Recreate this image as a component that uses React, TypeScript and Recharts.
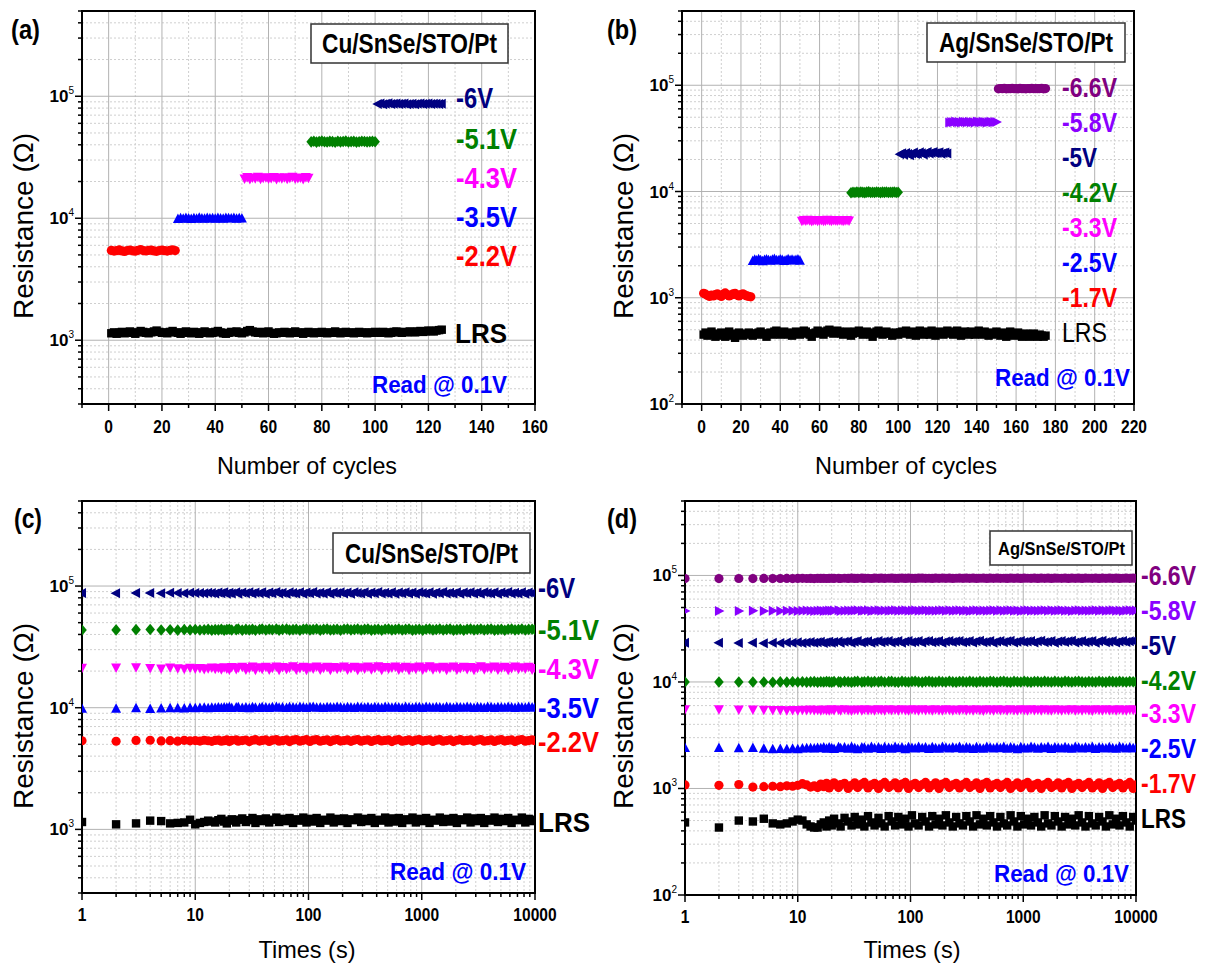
import React from 'react';
import { ScatterChart, Scatter, XAxis, YAxis, CartesianGrid, ReferenceArea } from 'recharts';

const FONT = "'Liberation Sans', Arial, Helvetica, sans-serif";

const COL = {
  lrs: '#000000', red: '#FF0000', blue: '#0000FF', magenta: '#FF00FF',
  green: '#008000', navy: '#000080', violet: '#8A00FF', purple: '#800080',
};

// ---------- (a) Cu/SnSe/STO/Pt : resistance (kOhm) vs cycle ----------
const aLRS = [1.14,1.16,1.13,1.15,1.17,1.14,1.16,1.18,1.15,1.13,1.16,1.19,1.17,1.15,1.14,1.16,1.18,1.20,1.17,1.15,1.16,1.14,1.17,1.19,1.16,
  1.15,1.13,1.16,1.18,1.15,1.14,1.17,1.16,1.13,1.15,1.18,1.16,1.14,1.15,1.17,1.19,1.16,1.14,1.13,1.15,1.17,1.16,1.18,1.15,1.14,
  1.16,1.19,1.21,1.18,1.16,1.15,1.17,1.14,1.16,1.18,1.15,1.13,1.14,1.16,1.15,1.17,1.16,1.14,1.15,1.18,1.16,1.15,1.13,1.16,1.17,
  1.15,1.14,1.16,1.15,1.17,1.16,1.14,1.15,1.16,1.18,1.15,1.14,1.16,1.17,1.15,1.16,1.14,1.15,1.17,1.16,1.15,1.14,1.16,1.15,1.17,
  1.16,1.15,1.17,1.16,1.14,1.15,1.17,1.18,1.16,1.15,1.17,1.16,1.18,1.17,1.16,1.18,1.19,1.17,1.18,1.20,1.19,1.18,1.20,1.21,1.22];
const aV22 = [5.45,5.38,5.42,5.50,5.40,5.35,5.44,5.48,5.41,5.37,5.46,5.52,5.43,5.39,5.45,5.49,5.40,5.36,5.44,5.47,5.42,5.38,5.45,5.50,5.43];
const aV35 = [9.85,10.0,9.9,10.05,9.95,9.88,10.02,9.92,10.08,9.97,9.9,10.04,9.94,10.0,9.89,10.06,9.96,9.91,10.03,9.98,9.93,10.05,9.9,10.0,9.95];
const aV43 = [21.2,21.8,21.0,21.6,21.3,21.9,21.1,21.5,21.7,21.2,21.4,21.8,21.0,21.6,21.3,21.7,21.1,21.5,21.9,21.2,21.4,21.6,21.0,21.8,21.5];
const aV51 = [42.3,42.8,42.1,42.6,42.9,42.4,42.2,42.7,42.5,42.0,42.8,42.3,42.6,42.9,42.2,42.5,42.7,42.1,42.4,42.8,42.6,42.3,42.5,42.7,42.4];
const aV6 = [86.5,87.2,86.0,86.8,87.5,86.3,86.9,87.1,86.4,86.7,87.3,86.1,86.6,87.0,86.2,86.8,87.4,86.5,86.9,87.2,86.3,86.7,87.0,86.4,86.8];
const aStart = { lrs: 1, v22: 1, v35: 26, v43: 51, v51: 76, v6: 101 };

// ---------- (b) Ag/SnSe/STO/Pt : resistance (kOhm) vs cycle ----------
const bLRS = [0.45,0.47,0.44,0.46,0.48,0.45,0.43,0.46,0.44,0.47,0.45,0.43,0.46,0.48,0.45,0.44,0.42,0.46,0.47,0.45,0.44,0.46,0.45,0.47,0.46,
  0.44,0.46,0.45,0.47,0.48,0.46,0.45,0.43,0.46,0.47,0.45,0.48,0.49,0.47,0.45,0.46,0.48,0.47,0.45,0.46,0.44,0.47,0.48,0.46,0.45,
  0.47,0.49,0.48,0.46,0.45,0.43,0.46,0.47,0.49,0.48,0.46,0.45,0.47,0.49,0.50,0.48,0.46,0.47,0.49,0.48,0.46,0.45,0.47,0.48,0.46,
  0.44,0.46,0.48,0.47,0.49,0.47,0.45,0.46,0.48,0.47,0.45,0.43,0.46,0.48,0.49,0.47,0.45,0.46,0.48,0.47,0.46,0.44,0.46,0.47,0.45,
  0.47,0.48,0.46,0.49,0.47,0.45,0.48,0.46,0.44,0.47,0.49,0.46,0.45,0.48,0.47,0.45,0.49,0.46,0.44,0.47,0.48,0.46,0.45,0.47,0.49,
  0.46,0.48,0.45,0.47,0.49,0.46,0.44,0.47,0.48,0.46,0.45,0.48,0.47,0.45,0.46,0.49,0.47,0.45,0.48,0.46,0.44,0.47,0.45,0.46,0.48,
  0.46,0.44,0.47,0.45,0.43,0.46,0.48,0.45,0.44,0.46,0.47,0.45,0.43,0.44,0.46,0.45,0.43,0.44,0.46,0.44,0.43,0.45,0.44,0.43,0.44];
const bV17 = [1.10,1.08,1.05,1.03,1.06,1.04,1.07,1.09,1.05,1.03,1.08,1.11,1.07,1.04,1.06,1.09,1.10,1.06,1.04,1.07,1.09,1.06,1.04,1.03,1.02];
const bV25 = [2.22,2.28,2.24,2.30,2.26,2.21,2.27,2.29,2.25,2.23,2.28,2.31,2.26,2.24,2.29,2.27,2.22,2.26,2.30,2.25,2.28,2.24,2.27,2.29,2.23];
const bV33 = [5.30,5.38,5.33,5.41,5.35,5.29,5.37,5.40,5.32,5.36,5.39,5.31,5.34,5.42,5.36,5.30,5.38,5.35,5.33,5.40,5.37,5.31,5.36,5.39,5.34];
const bV42 = [9.75,9.85,9.8,9.9,9.78,9.88,9.82,9.76,9.86,9.92,9.8,9.84,9.78,9.9,9.83,9.77,9.87,9.81,9.89,9.79,9.85,9.82,9.88,9.8,9.84];
const bV5 = [22.4,22.9,22.2,23.1,22.6,22.0,22.8,23.3,22.5,22.7,23.4,22.9,22.3,23.0,23.5,22.8,23.2,23.6,22.9,23.1,23.4,22.7,23.0,23.3,22.8];
const bV58 = [44.6,45.2,44.8,45.5,44.9,45.1,44.7,45.4,45.0,44.8,45.3,44.9,45.2,44.6,45.5,45.0,44.8,45.3,45.1,44.7,45.2,45.4,44.9,45.1,45.0];
const bV66 = [92.5,93.2,92.8,93.5,92.6,93.0,92.9,93.3,92.7,93.1,92.5,93.4,92.8,93.0,92.6,93.2,92.9,93.5,92.7,93.1,92.8,93.0,93.3,92.6,93.0];
const bStart = { lrs: 1, v17: 1, v25: 26, v33: 51, v42: 76, v5: 101, v58: 126, v66: 151 };

// ---------- retention: read times (s) ----------
const times = [1,2,3,4,5,6,7,8,9,10,
  11,12,13,14,15,16,17,18,19,20,
  21,23,24,26,28,30,32,34,37,39,
  42,45,48,52,55,59,64,68,73,78,
  84,90,96,103,110,118,127,136,146,156,
  167,179,192,206,221,237,254,272,292,313,
  335,359,385,413,443,475,509,545,585,627,
  672,720,772,828,887,951,1020,1093,1172,1256,
  1346,1443,1547,1659,1778,1906,2043,2190,2348,2517,
  2698,2893,3101,3324,3564,3820,4095,4390,4706,5045,
  5408,5798,6215,6663,7143,7657,8208,8799,9433,10000];

// ---------- (c) Cu retention (kOhm) ----------
const cLRS = [1.15,1.10,1.12,1.18,1.17,1.12,1.13,1.14,1.20,1.10,
  1.13,1.15,1.18,1.16,1.14,1.19,1.22,1.16,1.12,1.18,
  1.21,1.14,1.20,1.23,1.15,1.19,1.24,1.13,1.21,1.17,
  1.23,1.14,1.20,1.25,1.15,1.22,1.17,1.24,1.13,1.21,
  1.18,1.25,1.14,1.22,1.16,1.24,1.13,1.20,1.18,1.25,
  1.14,1.22,1.17,1.23,1.13,1.21,1.19,1.25,1.15,1.22,
  1.17,1.24,1.13,1.20,1.18,1.25,1.14,1.23,1.16,1.24,
  1.13,1.21,1.19,1.25,1.14,1.22,1.17,1.24,1.13,1.20,
  1.18,1.25,1.15,1.22,1.16,1.24,1.13,1.21,1.19,1.25,
  1.14,1.23,1.17,1.24,1.13,1.21,1.18,1.25,1.15,1.22,
  1.17,1.24,1.13,1.20,1.19,1.25,1.14,1.22,1.17,1.20];
const cV22 = [5.35,5.30,5.38,5.40,5.33,5.36,5.31,5.39,5.34,5.37,
  5.32,5.40,5.35,5.29,5.38,5.42,5.30,5.36,5.44,5.28,
  5.39,5.45,5.31,5.37,5.43,5.27,5.40,5.46,5.32,5.38,
  5.44,5.28,5.41,5.47,5.30,5.36,5.45,5.27,5.42,5.48,
  5.31,5.39,5.46,5.28,5.43,5.47,5.30,5.38,5.45,5.27,
  5.41,5.48,5.32,5.37,5.44,5.29,5.42,5.47,5.31,5.39,
  5.45,5.28,5.40,5.46,5.33,5.38,5.44,5.27,5.41,5.48,
  5.30,5.36,5.45,5.29,5.42,5.47,5.32,5.39,5.44,5.28,
  5.41,5.46,5.31,5.37,5.45,5.27,5.40,5.48,5.33,5.38,
  5.44,5.29,5.42,5.47,5.30,5.36,5.45,5.28,5.41,5.46,
  5.32,5.39,5.44,5.27,5.42,5.48,5.31,5.37,5.45,5.35];
const cV35 = [9.80,9.82,9.90,9.75,9.85,9.88,9.92,9.86,9.95,9.90,
  9.94,9.97,9.91,9.99,9.96,10.02,9.95,10.05,9.98,10.08,
  9.93,10.04,10.10,9.96,10.06,9.92,10.09,10.01,9.94,10.11,
  10.03,9.95,10.08,10.12,9.97,10.05,9.93,10.10,10.02,9.96,
  10.12,10.04,9.94,10.09,10.13,9.98,10.06,9.95,10.11,10.03,
  9.97,10.12,10.05,9.94,10.10,10.02,9.96,10.13,10.04,9.98,
  10.09,9.93,10.11,10.06,9.95,10.12,10.03,9.97,10.10,10.05,
  9.94,10.13,10.02,9.96,10.11,10.07,9.93,10.12,10.04,9.98,
  10.10,10.03,9.95,10.13,10.06,9.94,10.11,10.02,9.97,10.12,
  10.05,9.93,10.10,10.04,9.96,10.13,10.07,9.95,10.11,10.03,
  9.98,10.12,10.05,9.94,10.10,10.02,9.97,10.13,10.04,10.06];
const cV43 = [21.3,21.4,21.5,21.2,21.0,21.4,21.1,20.9,21.3,21.0,
  21.2,20.8,21.1,21.4,20.9,21.3,20.7,21.5,21.0,20.6,
  21.6,20.8,21.4,21.7,20.6,21.2,21.8,20.5,21.5,20.9,
  21.7,20.6,21.3,21.8,20.5,21.6,20.8,21.4,21.9,20.6,
  21.2,21.7,20.5,21.5,21.0,21.8,20.6,21.3,21.7,20.5,
  21.6,20.9,21.4,21.8,20.6,21.2,21.7,20.5,21.5,21.0,
  21.8,20.7,21.3,21.9,20.5,21.6,21.0,21.4,21.8,20.6,
  21.2,21.7,20.5,21.5,20.9,21.8,20.6,21.3,21.9,20.7,
  21.5,21.0,21.7,20.5,21.4,21.8,20.6,21.2,21.7,20.8,
  21.6,20.5,21.3,21.9,20.7,21.5,21.0,21.8,20.6,21.4,
  21.7,20.5,21.2,21.8,20.9,21.5,21.0,21.7,20.6,21.2];
const cV51 = [43.5,43.6,43.8,43.9,43.5,43.7,43.4,43.8,43.6,43.9,
  43.5,43.7,44.0,43.4,43.8,43.6,44.1,43.3,43.9,44.2,
  43.5,43.8,44.3,43.4,44.0,43.6,44.2,43.3,43.9,44.4,
  43.5,44.1,43.7,44.3,43.4,44.0,44.4,43.5,43.8,44.2,
  43.3,44.1,44.4,43.6,43.9,44.3,43.4,44.0,44.4,43.5,
  43.8,44.2,43.3,44.1,44.4,43.6,43.9,44.3,43.5,44.0,
  44.4,43.4,43.8,44.2,43.3,44.1,44.4,43.6,43.9,44.3,
  43.5,44.0,44.4,43.4,43.8,44.2,43.3,44.1,44.4,43.6,
  43.9,44.3,43.5,44.0,44.4,43.4,43.8,44.2,43.3,44.1,
  44.4,43.6,43.9,44.3,43.5,44.0,44.4,43.4,43.8,44.2,
  43.3,44.1,44.4,43.6,43.9,44.3,43.5,44.0,44.2,43.8];
const cV6 = [87.5,87.3,87.6,87.8,87.4,87.9,87.6,87.3,88.0,87.5,
  87.8,87.4,88.1,87.7,86.8,88.4,87.2,88.8,86.6,88.2,
  87.0,89.0,86.5,88.6,87.4,89.1,86.7,88.3,87.1,88.9,
  86.4,88.5,87.3,89.2,86.8,88.1,86.5,88.9,87.6,86.9,
  89.0,86.6,88.4,87.2,89.2,86.7,88.2,87.0,88.8,86.5,
  88.6,87.4,89.1,86.8,88.3,86.4,88.9,87.5,86.9,89.0,
  86.6,88.4,87.2,89.2,86.7,88.2,87.0,88.8,86.5,88.6,
  87.4,89.1,86.8,88.3,86.4,88.9,87.5,86.9,89.0,86.6,
  88.4,87.2,89.2,86.7,88.2,87.0,88.8,86.5,88.6,87.4,
  89.1,86.8,88.3,86.4,88.9,87.5,86.9,89.0,86.6,88.4,
  87.2,89.2,86.7,88.2,87.0,88.8,86.5,88.6,87.4,88.0];

// ---------- (d) Ag retention (kOhm) ----------
const dLRS = [0.48,0.43,0.50,0.49,0.52,0.47,0.46,0.47,0.49,0.51,
  0.50,0.46,0.44,0.43,0.43,0.46,0.48,0.44,0.50,0.45,
  0.52,0.47,0.44,0.53,0.49,0.45,0.54,0.46,0.51,0.44,
  0.55,0.48,0.45,0.53,0.47,0.44,0.55,0.49,0.45,0.54,
  0.46,0.52,0.44,0.56,0.47,0.45,0.54,0.49,0.44,0.55,
  0.46,0.52,0.45,0.56,0.48,0.44,0.54,0.47,0.45,0.55,
  0.49,0.44,0.56,0.46,0.52,0.45,0.55,0.48,0.44,0.54,
  0.47,0.45,0.56,0.49,0.44,0.55,0.46,0.52,0.45,0.54,
  0.48,0.44,0.56,0.47,0.45,0.55,0.49,0.44,0.54,0.46,
  0.52,0.45,0.56,0.48,0.44,0.55,0.47,0.45,0.54,0.49,
  0.44,0.56,0.46,0.52,0.45,0.55,0.48,0.44,0.54,0.50];
const dV17 = [1.08,1.07,1.09,1.03,1.04,1.05,1.04,1.06,1.05,1.07,
  1.11,1.08,1.03,1.06,1.02,1.10,1.04,1.12,1.01,1.08,
  1.13,1.02,1.09,1.12,1.00,1.07,1.13,1.02,1.10,1.14,
  1.01,1.08,1.12,1.00,1.09,1.14,1.02,1.07,1.13,1.01,
  1.10,1.14,1.00,1.08,1.12,1.02,1.09,1.14,1.01,1.07,
  1.13,1.00,1.10,1.14,1.02,1.08,1.12,1.01,1.09,1.14,
  1.02,1.07,1.13,1.00,1.10,1.14,1.01,1.08,1.12,1.02,
  1.09,1.14,1.00,1.07,1.13,1.02,1.10,1.14,1.01,1.08,
  1.12,1.00,1.09,1.14,1.02,1.07,1.13,1.01,1.10,1.14,
  1.00,1.08,1.12,1.02,1.09,1.14,1.01,1.07,1.13,1.00,
  1.10,1.14,1.02,1.08,1.12,1.01,1.09,1.14,1.00,1.08];
const dV25 = [2.40,2.40,2.38,2.40,2.36,2.33,2.35,2.34,2.36,2.33,
  2.37,2.38,2.39,2.37,2.40,2.38,2.42,2.36,2.43,2.39,
  2.35,2.44,2.38,2.42,2.36,2.45,2.39,2.34,2.43,2.41,
  2.36,2.45,2.38,2.42,2.35,2.44,2.40,2.36,2.45,2.38,
  2.42,2.34,2.44,2.40,2.37,2.45,2.38,2.42,2.35,2.44,
  2.39,2.36,2.45,2.41,2.37,2.43,2.38,2.45,2.36,2.42,
  2.40,2.35,2.44,2.39,2.36,2.45,2.41,2.37,2.43,2.38,
  2.45,2.36,2.42,2.40,2.34,2.44,2.39,2.37,2.45,2.41,
  2.36,2.43,2.38,2.45,2.35,2.42,2.40,2.37,2.44,2.39,
  2.36,2.45,2.41,2.37,2.43,2.38,2.45,2.35,2.42,2.40,
  2.37,2.44,2.39,2.36,2.45,2.41,2.37,2.43,2.38,2.39];
const dV33 = [5.55,5.55,5.52,5.50,5.48,5.45,5.47,5.44,5.46,5.43,
  5.48,5.45,5.50,5.46,5.49,5.44,5.51,5.47,5.42,5.53,
  5.46,5.50,5.43,5.54,5.47,5.41,5.52,5.48,5.44,5.55,
  5.46,5.50,5.42,5.53,5.48,5.43,5.55,5.46,5.51,5.42,
  5.54,5.47,5.44,5.55,5.49,5.42,5.53,5.46,5.50,5.43,
  5.55,5.47,5.44,5.54,5.48,5.42,5.52,5.46,5.55,5.44,
  5.50,5.43,5.54,5.47,5.41,5.53,5.48,5.44,5.55,5.46,
  5.51,5.42,5.54,5.47,5.44,5.55,5.49,5.42,5.53,5.46,
  5.50,5.43,5.55,5.47,5.44,5.54,5.48,5.42,5.52,5.46,
  5.55,5.44,5.50,5.43,5.54,5.47,5.41,5.53,5.48,5.44,
  5.55,5.46,5.51,5.42,5.54,5.47,5.44,5.55,5.49,5.48];
const dV42 = [10.0,10.0,10.0,10.0,10.0,9.95,10.02,9.97,10.04,9.98,
  10.05,9.96,10.03,10.07,9.95,10.06,9.98,10.09,10.01,9.96,
  10.10,10.03,9.97,10.11,10.04,9.96,10.08,10.12,9.99,10.05,
  10.13,9.97,10.09,10.02,10.14,9.98,10.07,10.12,10.00,9.96,
  10.13,10.05,9.98,10.11,10.14,10.01,9.97,10.10,10.13,10.03,
  9.98,10.12,10.06,9.99,10.14,10.02,9.97,10.11,10.08,10.00,
  10.13,10.05,9.96,10.12,10.04,9.98,10.14,10.07,9.97,10.10,
  10.13,10.01,9.96,10.12,10.06,9.99,10.14,10.03,9.97,10.11,
  10.08,10.00,10.13,10.05,9.98,10.12,10.04,9.96,10.14,10.07,
  9.99,10.11,10.13,10.02,9.97,10.10,10.06,9.98,10.14,10.03,
  9.97,10.12,10.08,10.00,10.13,10.05,9.98,10.11,10.04,10.05];
const dV5 = [23.3,23.3,23.2,23.3,23.1,23.4,23.2,23.5,23.3,23.6,
  23.2,23.5,23.7,23.3,23.6,23.8,23.2,23.6,23.9,23.4,
  23.7,24.0,23.3,23.8,24.1,23.4,23.9,24.2,23.5,23.8,
  24.1,23.3,23.9,24.2,23.6,24.0,24.3,23.5,23.9,24.2,
  23.4,24.0,24.3,23.6,23.9,24.2,23.5,24.1,24.3,23.6,
  23.9,24.2,23.4,24.0,24.3,23.7,24.1,24.3,23.6,23.9,
  24.2,23.5,24.1,24.4,23.6,23.9,24.3,23.4,24.0,24.2,
  23.6,24.1,24.4,23.5,23.9,24.3,23.7,24.0,24.2,23.5,
  24.1,24.4,23.6,23.9,24.3,23.4,24.0,24.2,23.7,24.1,
  24.4,23.5,23.9,24.3,23.6,24.0,24.2,23.4,24.1,24.4,
  23.6,23.9,24.3,23.5,24.0,24.2,23.7,24.1,24.3,24.0];
const dV58 = [46.4,46.4,46.3,46.5,46.4,46.6,46.3,46.5,46.7,46.4,
  46.6,46.8,46.5,46.3,46.7,46.9,46.4,46.6,47.0,46.5,
  46.8,47.1,46.4,46.7,47.0,46.5,46.9,47.2,46.6,46.8,
  47.1,46.4,46.9,47.2,46.7,47.0,46.5,46.9,47.2,46.6,
  46.8,47.1,46.5,47.0,47.2,46.7,46.9,47.2,46.6,47.0,
  46.5,46.9,47.2,46.7,47.1,46.6,46.9,47.2,46.7,47.0,
  46.4,46.8,47.2,46.6,47.0,46.5,46.9,47.2,46.7,47.1,
  46.5,46.9,47.2,46.6,47.0,46.4,46.8,47.2,46.7,47.0,
  46.5,46.9,47.2,46.6,47.1,46.5,46.8,47.2,46.7,47.0,
  46.4,46.9,47.2,46.6,47.0,46.5,46.8,47.2,46.7,47.1,
  46.5,46.9,47.2,46.6,47.0,46.4,46.8,47.2,46.7,46.9];
const dV66 = [93.5,93.5,93.6,93.5,93.7,93.4,93.6,93.8,93.5,93.7,
  93.9,93.6,93.8,93.5,93.9,93.7,94.0,93.6,93.9,94.1,
  93.7,94.0,93.6,94.1,93.8,94.2,93.7,94.0,94.2,93.8,
  94.1,93.6,94.2,93.9,94.3,93.8,94.1,94.3,93.7,94.0,
  94.2,93.8,94.3,94.0,93.7,94.2,94.3,93.9,94.1,93.8,
  94.3,94.0,94.2,93.9,94.3,93.8,94.1,94.3,94.0,94.2,
  93.9,94.3,93.7,94.1,94.3,93.8,94.2,94.0,94.3,93.9,
  94.1,93.7,94.3,94.0,94.2,93.8,94.3,94.1,93.9,94.2,
  93.7,94.3,94.0,94.2,93.8,94.3,94.1,93.9,94.2,93.8,
  94.3,94.0,94.2,93.7,94.3,94.1,93.9,94.2,93.8,94.3,
  94.0,94.2,93.9,94.3,93.8,94.1,94.3,94.0,94.2,94.1];

// ---------- axes ----------
const xTicksA = [-10,0,10,20,30,40,50,60,70,80,90,100,110,120,130,140,150,160];
const xTicksB = [-10,0,10,20,30,40,50,60,70,80,90,100,110,120,130,140,150,160,170,180,190,200,210,220];
const decadesX = [1, 10, 100, 1000];
const decadesY = [100, 1000, 10000, 100000];
const mult = [1,2,3,4,5,6,7,8,9];

const logTicks = (decades: number[], lo: number, hi: number) => {
  const out: number[] = [];
  decades.forEach(d => mult.forEach(m => { const v = d * m; if (v >= lo - 1e-9 && v <= hi + 1e-9) out.push(v); }));
  if (!out.includes(hi)) out.push(hi);
  return out;
};
const isDecade = (v: number) => Math.abs(Math.log10(v) - Math.round(Math.log10(v))) < 1e-9;

const yTicksA = logTicks(decadesY, 300, 500000);
const yTicksB = logTicks(decadesY, 100, 500000);
const xTicksLog = logTicks(decadesX, 1, 10000);

const byCycle = (start: number, kOhm: number[]) => kOhm.map((v, i) => ({ x: start + i, y: v * 1000 }));
const byTime = (t: number[], kOhm: number[]) =>
  kOhm.slice(0, t.length).map((v, i) => ({ x: t[i], y: v * 1000 }));

type Kind = 'square' | 'circle' | 'up' | 'down' | 'diamond' | 'left' | 'right';
type Series = { pts: { x: number; y: number }[]; kind: Kind; color: string };

const makeShape = (kind: Kind, color: string) => (props: any) => {
  const cx = props.cx, cy = props.cy;
  if (typeof cx !== 'number' || typeof cy !== 'number') return <g />;
  switch (kind) {
    case 'square': return <rect x={cx - 4.2} y={cy - 4.2} width={8.4} height={8.4} fill={color} />;
    case 'circle': return <circle cx={cx} cy={cy} r={4.6} fill={color} />;
    case 'up': return <polygon points={`${cx},${cy - 5.5} ${cx + 5},${cy + 4} ${cx - 5},${cy + 4}`} fill={color} />;
    case 'down': return <polygon points={`${cx - 5},${cy - 4} ${cx + 5},${cy - 4} ${cx},${cy + 5.5}`} fill={color} />;
    case 'diamond': return <polygon points={`${cx},${cy - 5.8} ${cx + 4.8},${cy} ${cx},${cy + 5.8} ${cx - 4.8},${cy}`} fill={color} />;
    case 'left': return <polygon points={`${cx - 5.5},${cy} ${cx + 4},${cy - 5} ${cx + 4},${cy + 5}`} fill={color} />;
    case 'right': return <polygon points={`${cx + 5.5},${cy} ${cx - 4},${cy - 5} ${cx - 4},${cy + 5}`} fill={color} />;
  }
  return <g />;
};

const seriesA: Series[] = [
  { pts: byCycle(aStart.lrs, aLRS), kind: 'square', color: COL.lrs },
  { pts: byCycle(aStart.v22, aV22), kind: 'circle', color: COL.red },
  { pts: byCycle(aStart.v35, aV35), kind: 'up', color: COL.blue },
  { pts: byCycle(aStart.v43, aV43), kind: 'down', color: COL.magenta },
  { pts: byCycle(aStart.v51, aV51), kind: 'diamond', color: COL.green },
  { pts: byCycle(aStart.v6, aV6), kind: 'left', color: COL.navy },
];
const seriesB: Series[] = [
  { pts: byCycle(bStart.lrs, bLRS), kind: 'square', color: COL.lrs },
  { pts: byCycle(bStart.v17, bV17), kind: 'circle', color: COL.red },
  { pts: byCycle(bStart.v25, bV25), kind: 'up', color: COL.blue },
  { pts: byCycle(bStart.v33, bV33), kind: 'down', color: COL.magenta },
  { pts: byCycle(bStart.v42, bV42), kind: 'diamond', color: COL.green },
  { pts: byCycle(bStart.v5, bV5), kind: 'left', color: COL.navy },
  { pts: byCycle(bStart.v58, bV58), kind: 'right', color: COL.violet },
  { pts: byCycle(bStart.v66, bV66), kind: 'circle', color: COL.purple },
];
const seriesC: Series[] = [
  { pts: byTime(times, cLRS), kind: 'square', color: COL.lrs },
  { pts: byTime(times, cV22), kind: 'circle', color: COL.red },
  { pts: byTime(times, cV35), kind: 'up', color: COL.blue },
  { pts: byTime(times, cV43), kind: 'down', color: COL.magenta },
  { pts: byTime(times, cV51), kind: 'diamond', color: COL.green },
  { pts: byTime(times, cV6), kind: 'left', color: COL.navy },
];
const seriesD: Series[] = [
  { pts: byTime(times, dLRS), kind: 'square', color: COL.lrs },
  { pts: byTime(times, dV17), kind: 'circle', color: COL.red },
  { pts: byTime(times, dV25), kind: 'up', color: COL.blue },
  { pts: byTime(times, dV33), kind: 'down', color: COL.magenta },
  { pts: byTime(times, dV42), kind: 'diamond', color: COL.green },
  { pts: byTime(times, dV5), kind: 'left', color: COL.navy },
  { pts: byTime(times, dV58), kind: 'right', color: COL.violet },
  { pts: byTime(times, dV66), kind: 'circle', color: COL.purple },
];

// ---------- ticks ----------
const YTick = (props: any) => {
  const { x, y, payload } = props;
  const v = payload.value;
  const major = isDecade(v);
  const exp = Math.round(Math.log10(v));
  return (
    <g>
      <line x1={x} x2={x - (major ? 7 : 4)} y1={y} y2={y} stroke="#000" strokeWidth={1.5} />
      {major && (
        <text x={x - 8} y={y + 6} textAnchor="end" fontFamily={FONT} fontSize={17} fontWeight="bold" fill="#000">
          10<tspan dy={-8} fontSize={10} fontWeight="normal">{exp}</tspan>
        </text>
      )}
    </g>
  );
};
const XTickLin = (props: any) => {
  const { x, y, payload } = props;
  const v = payload.value;
  const major = v % 20 === 0;
  return (
    <g>
      <line x1={x} x2={x} y1={y} y2={y + (major ? 7 : 4)} stroke="#000" strokeWidth={1.5} />
      {major && (
        <text transform={`translate(${x},${y + 29}) scale(0.82,1)`} textAnchor="middle" fontFamily={FONT} fontSize={19} fontWeight="bold" fill="#000">{v}</text>
      )}
    </g>
  );
};
const XTickLog = (props: any) => {
  const { x, y, payload } = props;
  const v = payload.value;
  const major = isDecade(v);
  return (
    <g>
      <line x1={x} x2={x} y1={y} y2={y + (major ? 7 : 4)} stroke="#000" strokeWidth={1.5} />
      {major && (
        <text transform={`translate(${x},${y + 28}) scale(0.82,1)`} textAnchor="middle" fontFamily={FONT} fontSize={19} fontWeight="bold" fill="#000">{v}</text>
      )}
    </g>
  );
};

const gen = (key: 'xAxis' | 'yAxis', vals: number[]) => (props: any) => {
  const ax = props && props[key];
  const sc = ax && ax.scale;
  if (!sc) return [];
  const f = typeof sc === 'function' ? (v: number) => sc(v) : (v: number) => sc.map(v);
  return vals.map(f).filter((c: any) => typeof c === 'number' && isFinite(c));
};

type PanelProps = {
  left: number; top: number; width: number; height: number;
  margin: { top: number; right: number; bottom: number; left: number };
  yAxisWidth: number; xLog: boolean;
  xDomain: [number, number]; yDomain: [number, number];
  xTicks: number[]; yTicks: number[]; series: Series[];
};

const Panel = (p: PanelProps) => {
  const xIn = p.xTicks.filter(v => v > p.xDomain[0] && v < p.xDomain[1]);
  const yIn = p.yTicks.filter(v => v > p.yDomain[0] && v < p.yDomain[1]);
  const xMaj = (v: number) => (p.xLog ? isDecade(v) : v % 20 === 0);
  const xMajor = xIn.filter(xMaj);
  const xMinor = xIn.filter(v => !xMaj(v));
  const yMajor = yIn.filter(isDecade);
  const yMinor = yIn.filter(v => !isDecade(v));
  return (
    <div style={{ position: 'absolute', left: p.left, top: p.top }}>
      <ScatterChart width={p.width} height={p.height} margin={p.margin}>
        <CartesianGrid stroke="#cfcfcf" strokeWidth={1} strokeDasharray="2 2"
          horizontalCoordinatesGenerator={gen('yAxis', yMinor)} verticalCoordinatesGenerator={gen('xAxis', xMinor)} />
        <CartesianGrid stroke="#b2b2b2" strokeWidth={1}
          horizontalCoordinatesGenerator={gen('yAxis', yMajor)} verticalCoordinatesGenerator={gen('xAxis', xMajor)} />
        <XAxis type="number" dataKey="x" domain={p.xDomain} scale={p.xLog ? 'log' : 'auto'} ticks={p.xTicks}
          interval={0} allowDataOverflow height={40} tickSize={0} tickMargin={0} tickLine={false}
          axisLine={{ stroke: '#000', strokeWidth: 2 }} tick={(tp: any) => (p.xLog ? <XTickLog {...tp} /> : <XTickLin {...tp} />)} />
        <YAxis type="number" dataKey="y" domain={p.yDomain} scale="log" ticks={p.yTicks}
          interval={0} allowDataOverflow width={p.yAxisWidth} tickSize={0} tickMargin={0} tickLine={false}
          axisLine={{ stroke: '#000', strokeWidth: 2 }} tick={(tp: any) => <YTick {...tp} />} />
        {p.series.map((s, i) => (
          <Scatter key={i} data={s.pts} fill={s.color} shape={makeShape(s.kind, s.color)} isAnimationActive={false} />
        ))}
        <ReferenceArea x1={p.xDomain[0]} x2={p.xDomain[1]} y1={p.yDomain[0]} y2={p.yDomain[1]}
          fill="none" fillOpacity={0} stroke="#000" strokeWidth={2} ifOverflow="visible" />
      </ScatterChart>
    </div>
  );
};

// ---------- annotation text ----------
const Txt = ({ x, y, w, s, c = '#000', b = true, t, anchor = 'start' }: any) => (
  <text x={x} y={y} fontSize={s} fontWeight={b ? 'bold' : 'normal'} fill={c} fontFamily={FONT}
    textLength={w} lengthAdjust="spacingAndGlyphs" textAnchor={anchor}>{t}</text>
);
const VTitle = ({ x, y }: any) => (
  <text transform={`translate(${x},${y}) rotate(-90)`} textAnchor="middle" fontSize={27} fontFamily={FONT}
    fill="#000" textLength={186} lengthAdjust="spacingAndGlyphs">Resistance (Ω)</text>
);
const Box = ({ x, y, w, h, tx, ty, tw, s, t }: any) => (
  <g>
    <rect x={x} y={y} width={w} height={h} fill="#fff" stroke="#333" strokeWidth={1.5} />
    <Txt x={tx} y={ty} w={tw} s={s} t={t} />
  </g>
);

const Overlay = () => (
  <svg width={1211} height={970} style={{ position: 'absolute', left: 0, top: 0, pointerEvents: 'none' }}>
    <Txt x={11} y={39} w={29} s={27} t="(a)" />
    <Txt x={607} y={39} w={30} s={27} t="(b)" />
    <Txt x={14} y={528} w={28} s={27} t="(c)" />
    <Txt x={607} y={528} w={30} s={27} t="(d)" />

    <VTitle x={33} y={226} />
    <VTitle x={633} y={226} />
    <VTitle x={33} y={716} />
    <VTitle x={633} y={716} />
    <Txt x={307} y={474} w={180} s={24} b={false} anchor="middle" t="Number of cycles" />
    <Txt x={906} y={474} w={182} s={24} b={false} anchor="middle" t="Number of cycles" />
    <Txt x={307} y={958} w={97} s={24} b={false} anchor="middle" t="Times (s)" />
    <Txt x={912} y={958} w={97} s={24} b={false} anchor="middle" t="Times (s)" />

    <Box x={311} y={24} w={197} h={39} tx={322} ty={53} tw={175} s={27} t="Cu/SnSe/STO/Pt" />
    <Box x={927} y={23} w={198} h={39} tx={939} ty={52} tw={174} s={27} t="Ag/SnSe/STO/Pt" />
    <Box x={333} y={533} w={197} h={40} tx={345} ty={563} tw={173} s={27} t="Cu/SnSe/STO/Pt" />
    <Box x={990} y={531} w={142} h={34} tx={998} ty={555} tw={127} s={19} t="Ag/SnSe/STO/Pt" />

    <Txt x={456} y={108} w={37} s={29} c={COL.navy} t="-6V" />
    <Txt x={456} y={149} w={61} s={29} c={COL.green} t="-5.1V" />
    <Txt x={456} y={188} w={61} s={29} c={COL.magenta} t="-4.3V" />
    <Txt x={456} y={227} w={61} s={29} c={COL.blue} t="-3.5V" />
    <Txt x={456} y={266} w={61} s={29} c={COL.red} t="-2.2V" />
    <Txt x={455} y={343} w={52} s={28} t="LRS" />
    <Txt x={372} y={393} w={135} s={24} c={COL.blue} t="Read @ 0.1V" />

    <Txt x={1062} y={97} w={55} s={27} c={COL.purple} t="-6.6V" />
    <Txt x={1062} y={132} w={55} s={27} c={COL.violet} t="-5.8V" />
    <Txt x={1062} y={167} w={35} s={27} c={COL.navy} t="-5V" />
    <Txt x={1062} y={202} w={55} s={27} c={COL.green} t="-4.2V" />
    <Txt x={1062} y={237} w={55} s={27} c={COL.magenta} t="-3.3V" />
    <Txt x={1062} y={272} w={55} s={27} c={COL.blue} t="-2.5V" />
    <Txt x={1062} y={307} w={55} s={27} c={COL.red} t="-1.7V" />
    <Txt x={1062} y={342} w={45} s={27} b={false} t="LRS" />
    <Txt x={995} y={386} w={135} s={24} c={COL.blue} t="Read @ 0.1V" />

    <Txt x={538} y={598} w={37} s={29} c={COL.navy} t="-6V" />
    <Txt x={538} y={640} w={61} s={29} c={COL.green} t="-5.1V" />
    <Txt x={538} y={679} w={61} s={29} c={COL.magenta} t="-4.3V" />
    <Txt x={538} y={718} w={61} s={29} c={COL.blue} t="-3.5V" />
    <Txt x={538} y={752} w={61} s={29} c={COL.red} t="-2.2V" />
    <Txt x={538} y={832} w={52} s={28} t="LRS" />
    <Txt x={390} y={880} w={136} s={24} c={COL.blue} t="Read @ 0.1V" />

    <Txt x={1141} y={585} w={55} s={27} c={COL.purple} t="-6.6V" />
    <Txt x={1141} y={620} w={55} s={27} c={COL.violet} t="-5.8V" />
    <Txt x={1141} y={655} w={35} s={27} c={COL.navy} t="-5V" />
    <Txt x={1141} y={690} w={55} s={27} c={COL.green} t="-4.2V" />
    <Txt x={1141} y={723} w={55} s={27} c={COL.magenta} t="-3.3V" />
    <Txt x={1141} y={758} w={55} s={27} c={COL.blue} t="-2.5V" />
    <Txt x={1141} y={793} w={55} s={27} c={COL.red} t="-1.7V" />
    <Txt x={1141} y={828} w={45} s={27} t="LRS" />
    <Txt x={994} y={882} w={135} s={24} c={COL.blue} t="Read @ 0.1V" />
  </svg>
);

export default function App() {
  return (
    <div style={{ position: 'absolute', left: 0, top: 0, width: 1211, height: 970, background: '#fff', overflow: 'hidden' }}>
      <Panel left={0} top={0} width={600} height={480} margin={{ top: 11, right: 65, bottom: 36, left: 0 }}
        yAxisWidth={82} xLog={false} xDomain={[-10, 160]} yDomain={[300, 500000]}
        xTicks={xTicksA} yTicks={yTicksA} series={seriesA} />
      <Panel left={600} top={0} width={600} height={480} margin={{ top: 11, right: 66, bottom: 36, left: 0 }}
        yAxisWidth={82} xLog={false} xDomain={[-10, 220]} yDomain={[100, 500000]}
        xTicks={xTicksB} yTicks={yTicksB} series={seriesB} />
      <Panel left={0} top={480} width={600} height={480} margin={{ top: 21, right: 65, bottom: 27, left: 0 }}
        yAxisWidth={82} xLog={true} xDomain={[1, 10000]} yDomain={[300, 500000]}
        xTicks={xTicksLog} yTicks={yTicksA} series={seriesC} />
      <Panel left={600} top={480} width={600} height={480} margin={{ top: 21, right: 64, bottom: 25, left: 0 }}
        yAxisWidth={85} xLog={true} xDomain={[1, 10000]} yDomain={[100, 500000]}
        xTicks={xTicksLog} yTicks={yTicksB} series={seriesD} />
      <Overlay />
    </div>
  );
}
